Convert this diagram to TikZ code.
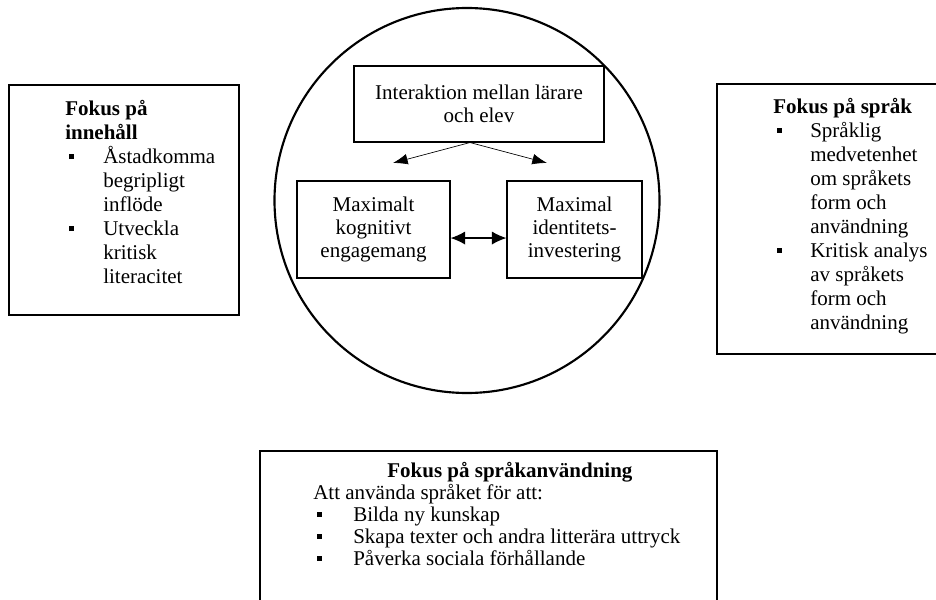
\documentclass[tikz,border=0pt]{standalone}
\usepackage{fontspec}
\setmainfont{Liberation Serif}
\usetikzlibrary{arrows.meta}
\tikzset{ruta/.style={draw,line width=0.8pt,inner sep=0pt,align=center}}
\tikzset{lista/.style={inner sep=0pt,anchor=north west,font=\fontsize{15.75}{18}\selectfont}}
\tikzset{pil/.style={-{Latex[length=11pt,width=8pt]},line width=0.5pt}}
\newcommand{\punkt}{\hspace*{2.5pt}\rule[3.5pt]{3.8pt}{3.8pt}}

\begin{document}
\begin{tikzpicture}[x=0.75pt,y=-0.75pt]
        \useasboundingbox (0,0) rectangle (936,600);
        \begin{scope}[font=\fontsize{15.75}{17.6}\selectfont]
          \node[circle,draw,line width=1.6pt,minimum size=288.75pt] (ring) at (467,200.5) {};
          \node[ruta,minimum width=187.5pt,minimum height=57pt] (inter) at (479,104) {Interaktion mellan lärare\\och elev};
          \node[ruta,minimum width=114.75pt,minimum height=72.75pt] (kog) at (373.5,229.5) {Maximalt\\kognitivt\\engagemang};
          \node[ruta,minimum width=101.25pt,minimum height=72.75pt] (ide) at (574.5,229.5) {Maximal\\identitets-\\investering};
          \coordinate (vp) at (393,163);
          \coordinate (hp) at (547,163);
          \draw[pil] ([xshift=-6.75pt]inter.south) -- (vp);
          \draw[pil] ([xshift=-6.75pt]inter.south) -- (hp);
          \draw[{Latex[length=11pt,width=10pt]}-{Latex[length=11pt,width=10pt]},line width=1pt]
            ([yshift=-6.4pt]kog.east) -- ([yshift=-6.4pt]ide.west);

          \node[ruta,line width=1pt,minimum width=172.5pt,minimum height=172.5pt] (inneh) at (124,200) {};
          \node[lista] (innehtxt) at (65,98.2) {\begin{tabular}{@{}p{28.5pt}@{}l@{}}
            \multicolumn{2}{@{}l@{}}{\bfseries Fokus på}\\
            \multicolumn{2}{@{}l@{}}{\bfseries innehåll}\\
            \punkt & Åstadkomma\\
            & begripligt\\
            & inflöde\\
            \punkt & Utveckla\\
            & kritisk\\
            & literacitet
          \end{tabular}};

          \node[ruta,line width=1pt,minimum width=174.75pt,minimum height=202.5pt] (sprak) at (833.5,219) {};
          \node[lista] (spraktxt) at (773,96.2) {\begin{tabular}{@{}p{27.75pt}@{}l@{}}
            \multicolumn{2}{@{}l@{}}{\bfseries Fokus på språk}\\
            \punkt & Språklig\\
            & medvetenhet\\
            & om språkets\\
            & form och\\
            & användning\\
            \punkt & Kritisk analys\\
            & av språkets\\
            & form och\\
            & användning
          \end{tabular}};

          \node[ruta,line width=1pt,minimum width=342.75pt,minimum height=126.75pt] (anv) at (488.5,535.5) {};
          \node[lista,font=\fontsize{15.75}{16.5}\selectfont] (anvtxt) at (313,461.6) {\begin{tabular}{@{}p{30pt}@{}p{265pt}@{}}
            \multicolumn{2}{@{}c@{}}{\bfseries Fokus på språkanvändning}\\
            \multicolumn{2}{@{}l@{}}{Att använda språket för att:}\\
            \punkt & Bilda ny kunskap\\
            \punkt & Skapa texter och andra litterära uttryck\\
            \punkt & Påverka sociala förhållande
          \end{tabular}};
        \end{scope}
      \end{tikzpicture}
\end{document}
